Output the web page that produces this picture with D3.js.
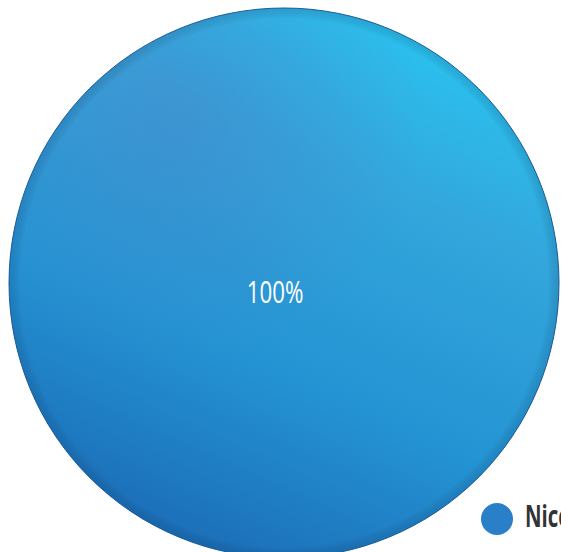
<!DOCTYPE html>
<html>
<head>
<meta charset="utf-8">
<script src="https://cdn.jsdelivr.net/npm/d3@7"></script>
<style>
  html, body { margin: 0; padding: 0; background: #fff; overflow: hidden; }
  svg { display: block; }
</style>
</head>
<body>
<div id="chart"></div>
<script>
// data
var categories = ["Nicotine"];
var values = [100];
var colors = ["#2a80c8"];

var width = 561;
var height = 552;
var cx = 284;
var cy = 283;
var radius = 275;

var data = categories.map(function(c, i) {
  return { label: c, value: values[i] };
});

var svg = d3
  .select("#chart")
  .append("svg")
  .attr("width", width)
  .attr("height", height);

var defs = svg.append("defs");

// shaded fill like the original
var grad = defs
  .append("linearGradient")
  .attr("id", "pieFill")
  .attr("x1", "0.75")
  .attr("y1", "0")
  .attr("x2", "0.3")
  .attr("y2", "1");
grad.append("stop").attr("offset", "0").attr("stop-color", "#29c6f2");
grad.append("stop").attr("offset", "0.3").attr("stop-color", "#33a6dc");
grad.append("stop").attr("offset", "0.65").attr("stop-color", "#2493d3");
grad.append("stop").attr("offset", "1").attr("stop-color", "#1b6bb5");

var shade = defs
  .append("radialGradient")
  .attr("id", "pieShade")
  .attr("cx", "0.5")
  .attr("cy", "0.5")
  .attr("r", "0.5");
shade.append("stop").attr("offset", "0.96").attr("stop-color", "#000").attr("stop-opacity", 0);
shade.append("stop").attr("offset", "1").attr("stop-color", "#0a3a6e").attr("stop-opacity", 0.18);

var tint = defs
  .append("radialGradient")
  .attr("id", "pieTint")
  .attr("cx", "0.3")
  .attr("cy", "0.2")
  .attr("r", "0.45");
tint.append("stop").attr("offset", "0").attr("stop-color", "#4a7fc4").attr("stop-opacity", 0.45);
tint.append("stop").attr("offset", "1").attr("stop-color", "#4a7fc4").attr("stop-opacity", 0);

var pie = d3.pie().sort(null).value(function(d) { return d.value; });
var arc = d3.arc().innerRadius(0).outerRadius(radius);

var g = svg.append("g").attr("transform", "translate(" + cx + "," + cy + ")");

var slices = g
  .selectAll("g.slice")
  .data(pie(data))
  .enter()
  .append("g")
  .attr("class", "slice");

slices
  .append("path")
  .attr("d", arc)
  .attr("fill", "url(#pieFill)")
  .attr("stroke", "#1d5f9c")
  .attr("stroke-width", 1);

slices.append("path").attr("d", arc).attr("fill", "url(#pieTint)");
slices.append("path").attr("d", arc).attr("fill", "url(#pieShade)");

var total = d3.sum(values);
// condensed look: squeeze the glyphs horizontally
slices
  .append("text")
  .attr("transform", function(d) {
    var full = d.endAngle - d.startAngle >= 2 * Math.PI - 1e-6;
    var p = full ? [-9, 12] : arc.centroid(d);
    return "translate(" + p[0] + "," + p[1] + ") scale(0.72,1)";
  })
  .attr("text-anchor", "middle")
  .attr("dominant-baseline", "middle")
  .attr("fill", "#fff")
  .style("font-family", "'Open Sans', sans-serif")
  .style("font-size", "31px")
  .text(function(d) {
    return Math.round((d.data.value / total) * 100) + "%";
  });

// legend
var legend = svg
  .selectAll("g.legend")
  .data(data)
  .enter()
  .append("g")
  .attr("class", "legend")
  .attr("transform", function(d, i) {
    return "translate(497," + (519 + i * 40) + ")";
  });

legend
  .append("circle")
  .attr("r", 17)
  .attr("fill", function(d, i) { return colors[i]; })
  .attr("stroke", "#fff")
  .attr("stroke-width", 2);

legend
  .append("text")
  .attr("transform", "translate(28,0) scale(0.68,1)")
  .attr("dominant-baseline", "middle")
  .attr("fill", "#333")
  .style("font-family", "'Open Sans', sans-serif")
  .style("font-weight", "bold")
  .style("font-size", "30px")
  .text(function(d) { return d.label; });
</script>
</body>
</html>
